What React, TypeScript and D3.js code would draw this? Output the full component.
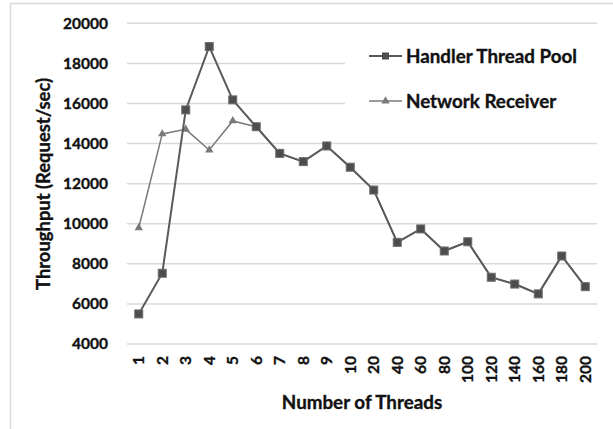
import React from "react";
import * as d3 from "d3";

const categories = ["1","2","3","4","5","6","7","8","9","10","20","40","60","80","100","120","140","160","180","200"];
const handlerPool = [5500,7530,15680,18840,16180,14840,13510,13100,13880,12820,11680,9070,9740,8640,9100,7330,6990,6500,8390,6860];
const networkReceiver = [9800,14480,14710,13680,15130,14840,13510,13100,13880,12820,11680,9070,9740,8640,9100,7330,6990,6500,8390,6860];
const yTicks = [4000,6000,8000,10000,12000,14000,16000,18000,20000];
const seriesNames = ["Handler Thread Pool", "Network Receiver"];

const W = 613, H = 429;
const FONT = "Lato, 'Open Sans', sans-serif";
const TXT = "#111";

export default function App() {
  const x = d3.scaleBand<string>().domain(categories).range([127, 597]).padding(0);
  const y = d3.scaleLinear().domain([4000, 20000]).range([344, 23.3]);
  const cx = (c: string) => (x(c) as number) + x.bandwidth() / 2;
  const line = d3.line<number>().x((_, i) => cx(categories[i])).y(d => y(d));
  const tri = d3.symbol().type(d3.symbolTriangle).size(30)();
  const textStyle = { fill: TXT, stroke: TXT, strokeWidth: 0.35, fontWeight: 700 } as const;

  return (
    <svg width={W} height={H} style={{ position: "absolute", left: 0, top: 0, background: "#fff" }} fontFamily={FONT}>
      <rect x={10.5} y={3.5} width={W} height={H} fill="#fff" stroke="#d9d9d9" strokeWidth={1.5} />
      {yTicks.map(t => {
        const covered = t === 16000 || t === 18000;
        return (
          <g key={t}>
            <line x1={127} x2={covered ? 345 : 597} y1={y(t)} y2={y(t)} stroke="#d9d9d9" strokeWidth={1.5} />
            <text x={108} y={y(t)} dy="0.35em" textAnchor="end" fontSize={15.5} {...textStyle}>{t}</text>
          </g>
        );
      })}
      {categories.map(c => (
        <text key={c} transform={`translate(${cx(c)},356) rotate(-90)`} dy="0.35em" textAnchor="end" fontSize={15.5} {...textStyle}>{c}</text>
      ))}
      <text x={362} y={402} dy="0.35em" textAnchor="middle" fontSize={18.8} {...textStyle}>Number of Threads</text>
      <text transform="translate(44,184) rotate(-90)" dy="0.35em" textAnchor="middle" fontSize={18.4} {...textStyle}>Throughput  (Request/sec)</text>

      <path d={line(networkReceiver) || ""} fill="none" stroke="#7a7a7a" strokeWidth={1.5} />
      {networkReceiver.map((v, i) => (
        <path key={"t" + i} d={tri || ""} transform={`translate(${cx(categories[i])},${y(v)})`} fill="#7a7a7a" />
      ))}
      <path d={line(handlerPool) || ""} fill="none" stroke="#5a5a5a" strokeWidth={2} />
      {handlerPool.map((v, i) => (
        <rect key={"s" + i} x={cx(categories[i]) - 4} y={y(v) - 4} width={8} height={8} fill="#4d4d4d" stroke="#6e6e6e" strokeWidth={1} />
      ))}

      <g>
        <line x1={369} x2={402} y1={56} y2={56} stroke="#5a5a5a" strokeWidth={2} />
        <rect x={382} y={52.5} width={7} height={7} fill="#4d4d4d" />
        <text x={406} y={56} dy="0.35em" fontSize={18.8} {...textStyle}>{seriesNames[0]}</text>
        <line x1={369} x2={402} y1={101} y2={101} stroke="#7a7a7a" strokeWidth={1.5} />
        <path d={tri || ""} transform="translate(385.5,101)" fill="#7a7a7a" />
        <text x={406} y={101} dy="0.35em" fontSize={18.8} {...textStyle}>{seriesNames[1]}</text>
      </g>
    </svg>
  );
}
